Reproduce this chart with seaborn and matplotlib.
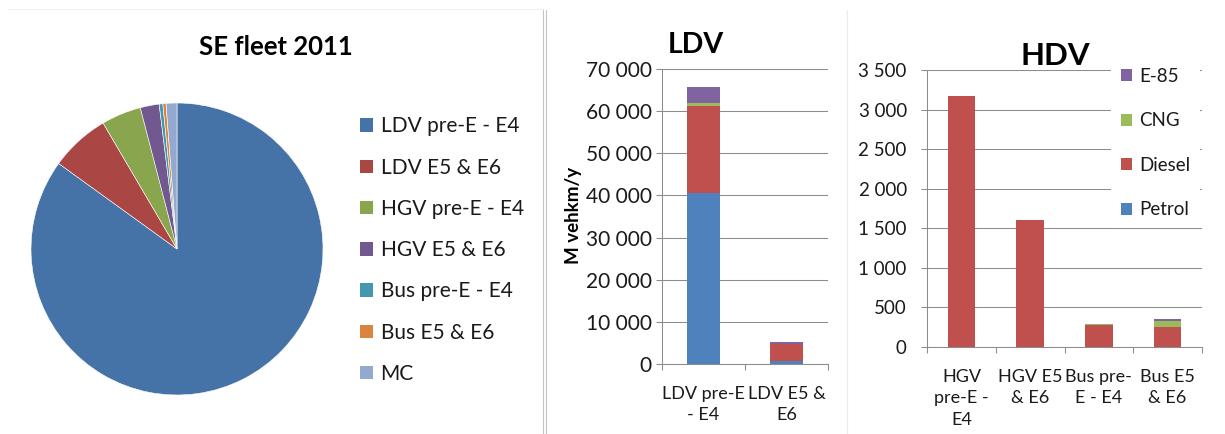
import numpy as np
import pandas as pd
import seaborn as sns
import matplotlib
matplotlib.use("Agg")
import matplotlib.pyplot as plt
from matplotlib.lines import Line2D
from matplotlib.patches import Patch
from matplotlib.ticker import FuncFormatter, FixedLocator

# ---- data -------------------------------------------------------------
pie_labels = ["LDV pre-E - E4", "LDV E5 & E6", "HGV pre-E - E4", "HGV E5 & E6",
              "Bus pre-E - E4", "Bus E5 & E6", "MC"]
pie_shares = [85.0, 6.6, 4.4, 2.1, 0.4, 0.35, 1.2]
pie_colors = ["#4572A7", "#AA4643", "#89A54E", "#71588F", "#4198AF", "#DB843D", "#93A9CF"]

fuels = ["Petrol", "Diesel", "CNG", "E-85"]
fuel_colors = ["#4F81BD", "#C0504D", "#9BBB59", "#8064A2"]

ldv_cats = ["LDV pre-E\n- E4", "LDV E5 &\nE6"]
ldv_petrol = [40550, 700]
ldv_diesel = [20570, 4050]
ldv_cng = [800, 80]
ldv_e85 = [3800, 400]

hdv_cats = ["HGV\npre-E -\nE4", "HGV E5\n& E6", "Bus pre-\nE - E4", "Bus E5\n& E6"]
hdv_petrol = [0, 0, 0, 0]
hdv_diesel = [3175, 1600, 275, 250]
hdv_cng = [0, 0, 20, 75]
hdv_e85 = [0, 0, 0, 30]

# ---- style ------------------------------------------------------------
sns.set_style("white")
plt.rcParams["font.family"] = ["Lato", "DejaVu Sans"]

W, H = 1225, 434
fig = plt.figure(figsize=(W / 100, H / 100), dpi=100)
fig.patch.set_facecolor("white")


def box(x0, y0, x1, y1):
    """Axes rectangle from pixel edges (y measured from the top)."""
    return [x0 / W, 1 - y1 / H, (x1 - x0) / W, (y1 - y0) / H]


def fx(x):
    return x / W


def fy(y):
    return 1 - y / H


GRID = "#8c8c8c"
TXT = "#1a1a1a"

# panel separators
fig.add_artist(Line2D([fx(8), fx(543)], [fy(9), fy(9)], color="#f0f0f0", lw=0.8))
fig.add_artist(Line2D([fx(543), fx(543)], [fy(10), fy(434)], color="#c4c4c4", lw=0.8))
fig.add_artist(Line2D([fx(545.5), fx(545.5)], [fy(10), fy(434)], color="#c4c4c4", lw=0.8))
fig.add_artist(Line2D([fx(847), fx(847)], [fy(10), fy(434)], color="#ececec", lw=0.8))

# ---- pie --------------------------------------------------------------
cx, cy, r = 177, 249, 146
ax_pie = fig.add_axes(box(cx - r, cy - r, cx + r, cy + r))
ax_pie.pie(pie_shares, colors=pie_colors, startangle=90, counterclock=False,
           radius=1.0, wedgeprops=dict(edgecolor="white", linewidth=0.4))
ax_pie.set_xlim(-1.0, 1.0)
ax_pie.set_ylim(-1.0, 1.0)
ax_pie.set_axis_off()

fig.text(fx(276), fy(55), "SE fleet 2011", ha="center", va="baseline",
         fontsize=18.5, fontweight="bold", color="black")

pie_handles = [Patch(facecolor=c, edgecolor="none") for c in pie_colors]
fig.legend(pie_handles, pie_labels, loc="upper left",
           bbox_to_anchor=(fx(350), fy(106)), frameon=False, fontsize=15,
           handlelength=0.62, handleheight=0.62, handletextpad=0.35,
           labelspacing=1.02, borderpad=0.0, labelcolor=TXT)


# ---- stacked bar helper ------------------------------------------------
def stacked(ax, cats, layers):
    cum = np.cumsum(np.array(layers, dtype=float), axis=0)
    for i in range(len(layers) - 1, -1, -1):
        sns.barplot(x=cats, y=cum[i], color=fuel_colors[i], width=0.4,
                    saturation=1, errorbar=None, ax=ax, zorder=3,
                    linewidth=0, edgecolor="none")
    ax.set_xlim(-0.5, len(cats) - 0.5)
    ax.yaxis.grid(True, color=GRID, lw=0.75, zorder=0)
    ax.set_axisbelow(True)
    for s in ["top", "right"]:
        ax.spines[s].set_visible(False)
    for s in ["left", "bottom"]:
        ax.spines[s].set_color(GRID)
        ax.spines[s].set_linewidth(0.75)
    ax.xaxis.set_minor_locator(FixedLocator(np.arange(-0.5, len(cats), 1.0)))
    ax.tick_params(axis="x", which="major", length=0, pad=15.5, labelsize=13,
                   labelcolor=TXT)
    ax.tick_params(axis="x", which="minor", length=4, width=0.75, color=GRID,
                   direction="out", bottom=True)
    ax.yaxis.set_major_formatter(FuncFormatter(lambda v, p: f"{int(v):,}".replace(",", " ")))
    ax.set_xlabel("")
    ax.set_ylabel("")
    for t in ax.get_xticklabels():
        t.set_linespacing(1.45)


# ---- LDV --------------------------------------------------------------
ax_l = fig.add_axes(box(662, 69, 828, 364))
stacked(ax_l, ldv_cats, [ldv_petrol, ldv_diesel, ldv_cng, ldv_e85])
ax_l.set_ylim(0, 70000)
ax_l.set_yticks(np.arange(0, 70001, 10000))
ax_l.tick_params(axis="y", length=4.5, width=0.75, color=GRID, pad=3,
                 labelsize=15, labelcolor=TXT, left=True)
fig.text(fx(696), fy(53), "LDV", ha="center", va="baseline",
         fontsize=20.5, fontweight="bold", color="black")
fig.text(fx(573), fy(215), "M vehkm/y", rotation=90, ha="center", va="center",
         fontsize=13.5, fontweight="bold", color="black")

# ---- HDV --------------------------------------------------------------
ax_h = fig.add_axes(box(927, 70, 1202, 347))
stacked(ax_h, hdv_cats, [hdv_petrol, hdv_diesel, hdv_cng, hdv_e85])
ax_h.set_ylim(0, 3500)
ax_h.set_yticks(np.arange(0, 3501, 500))
ax_h.tick_params(axis="y", length=4.5, width=0.75, color=GRID, pad=10,
                 labelsize=13.5, labelcolor=TXT, left=True)
fig.text(fx(1055), fy(65), "HDV", ha="center", va="baseline",
         fontsize=22.5, fontweight="bold", color="black")

fuel_handles = [Patch(facecolor=c, edgecolor="none") for c in fuel_colors]
leg = ax_h.legend(fuel_handles[::-1], fuels[::-1], loc="upper left",
                  bbox_to_anchor=(fx(1102), fy(49)), bbox_transform=fig.transFigure,
                  frameon=True, fontsize=13.5, handlelength=0.6, handleheight=0.6,
                  handletextpad=0.4, labelspacing=1.47, borderpad=0.5,
                  labelcolor=TXT, fancybox=False)
leg.get_frame().set_facecolor("white")
leg.get_frame().set_edgecolor("none")
leg.get_frame().set_alpha(1.0)
leg.set_zorder(5)

fig.savefig("out.png", dpi=100, facecolor="white")
